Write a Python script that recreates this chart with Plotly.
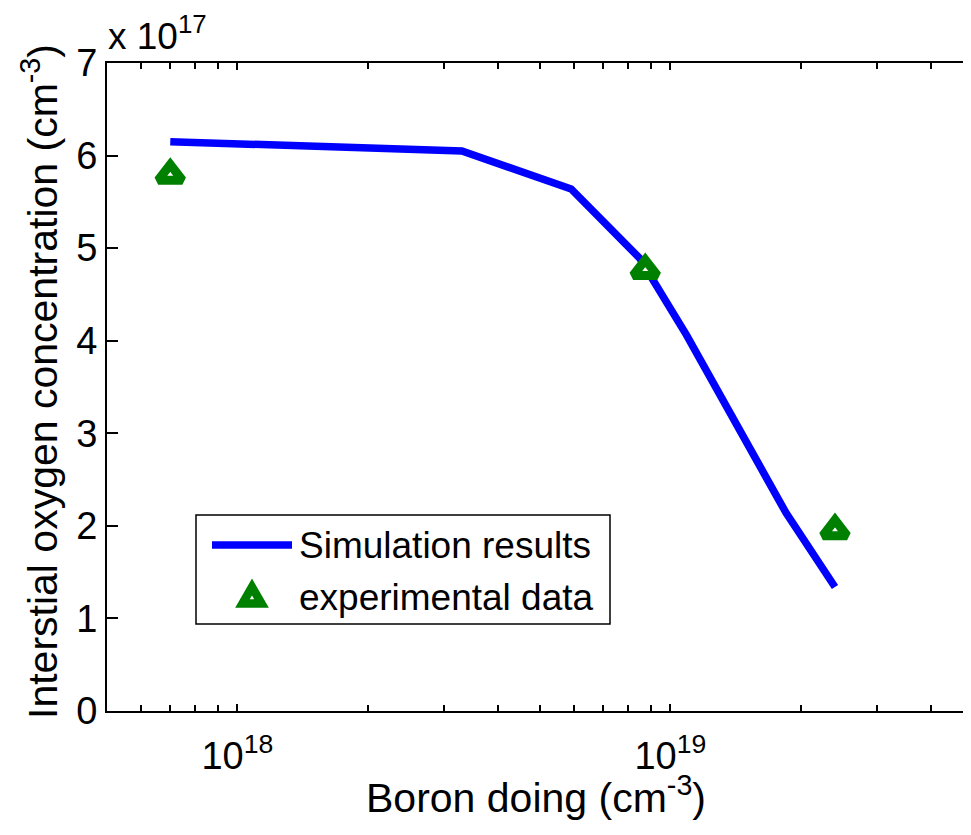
import numpy as np
import plotly.graph_objects as go

# ---- data ----
sim_x = [7.0e17, 3.3e18, 5.9e18, 8.5e18, 1.09e19, 1.85e19, 2.4e19]
sim_y = [6.15, 6.05, 5.64, 4.89, 4.06, 2.14, 1.34]          # x 10^17 cm^-3
exp_x = [7.0e17, 8.75e18, 2.4e19]
exp_y = [5.79, 4.76, 1.95]                                   # x 10^17 cm^-3

y_ticks = [0, 1, 2, 3, 4, 5, 6, 7]
x_major = [1e18, 1e19]
x_major_text = ["10<sup>18</sup>", "10<sup>19</sup>"]
x_minor = [5e17, 6e17, 7e17, 8e17, 9e17, 2e18, 3e18, 4e18, 5e18, 6e18, 7e18,
           8e18, 9e18, 2e19, 3e19, 4e19]

series_names = ["Simulation results", "experimental data"]

FONT = "Liberation Sans, Arial, sans-serif"
BLUE = "#0000FF"
GREEN = "#008000"
FS = 37      # legend / exponent label
FT = 38      # tick labels
FA = 41      # axis titles

W, H = 963, 827          # page body has an 8px margin
OFF = 8
L, R, T, B = 99, 0, 55, 124
PW = W - L - R
PH = H - T - B
DECADE = 433.0           # pixels per decade in the reference
x0 = np.log10(5e17)
x1 = x0 + PW / DECADE

fig = go.Figure()
fig.add_trace(go.Scatter(x=sim_x, y=sim_y, mode="lines", name=series_names[0],
                         line=dict(color=BLUE, width=7.5), showlegend=False))
fig.add_trace(go.Scatter(x=exp_x, y=exp_y, mode="markers", name=series_names[1],
                         marker=dict(symbol="triangle-up", size=21, color="white",
                                     line=dict(color=GREEN, width=9)),
                         showlegend=False))
# right-side ticks without a visible right spine
fig.add_trace(go.Scatter(x=[None], y=[None], yaxis="y2", showlegend=False))

fig.update_layout(
    width=W, height=H,
    margin=dict(l=L, r=R, t=T, b=B, autoexpand=False),
    paper_bgcolor="white", plot_bgcolor="white",
    font=dict(family=FONT, size=FS, color="black"),
    xaxis=dict(type="log", range=[x0, x1], automargin=False,
               tickmode="array", tickvals=x_major, ticktext=x_major_text,
               tickfont=dict(size=FT),
               ticks="inside", ticklen=7, tickwidth=1.5, tickcolor="black",
               ticklabelstandoff=10,
               minor=dict(tickmode="array", tickvals=x_minor, ticks="inside",
                          ticklen=6, tickwidth=1.5, tickcolor="black", showgrid=False),
               showline=True, linecolor="black", linewidth=2, mirror="ticks",
               showgrid=False, zeroline=False),
    yaxis=dict(range=[0, 7], tickmode="array", tickvals=y_ticks, automargin=False,
               tickfont=dict(size=FT),
               ticks="inside", ticklen=11, tickwidth=1.5, tickcolor="black",
               showline=True, linecolor="black", linewidth=2,
               showgrid=False, zeroline=False),
    yaxis2=dict(range=[0, 7], overlaying="y", side="right", tickmode="array",
                tickvals=y_ticks, ticks="inside", ticklen=8, tickwidth=1.5,
                tickcolor="black", showticklabels=False, showline=False,
                showgrid=False, zeroline=False, automargin=False),
)

def px(xp): return (xp - OFF - L) / PW
def py(yp): return (T + PH - (yp - OFF)) / PH

# axis titles
fig.add_annotation(xref="paper", yref="paper", x=px(536), y=py(767),
                   xanchor="center", yanchor="top", showarrow=False,
                   text="Boron doing (cm<sup>-3</sup>)", font=dict(size=FA, family=FONT))
fig.add_annotation(xref="paper", yref="paper", x=px(40), y=py(382),
                   xanchor="center", yanchor="middle", showarrow=False, textangle=-90,
                   text="Interstial oxygen concentration (cm<sup>-3</sup>)",
                   font=dict(size=FA, family=FONT))

# exponent label
fig.add_annotation(xref="paper", yref="paper", x=0, y=1, xanchor="left", yanchor="bottom",
                   xshift=-1, yshift=4, showarrow=False,
                   text="x 10<sup>17</sup>", font=dict(size=FS, family=FONT))

# ---- custom legend (MATLAB style) ----
fig.add_shape(type="rect", xref="paper", yref="paper",
              x0=px(196), x1=px(610), y0=py(624), y1=py(515),
              line=dict(color="black", width=1.5), fillcolor="white", layer="above")
fig.add_shape(type="line", xref="paper", yref="paper",
              x0=px(212), x1=px(292), y0=py(545), y1=py(545),
              line=dict(color=BLUE, width=7.5), layer="above")
fig.add_shape(type="path", xref="paper", yref="paper", xsizemode="pixel", ysizemode="pixel",
              xanchor=px(252), yanchor=py(598),
              path="M -9.5,-5.5 L 9.5,-5.5 L 0,11 Z",
              fillcolor="white", line=dict(color=GREEN, width=8.5), layer="above")
for name, yc in zip(series_names, [545, 597]):
    fig.add_annotation(xref="paper", yref="paper", x=px(297), y=py(yc),
                       xanchor="left", yanchor="middle", showarrow=False,
                       text=name, font=dict(size=FS, family=FONT))

fig.write_html("out.html")
